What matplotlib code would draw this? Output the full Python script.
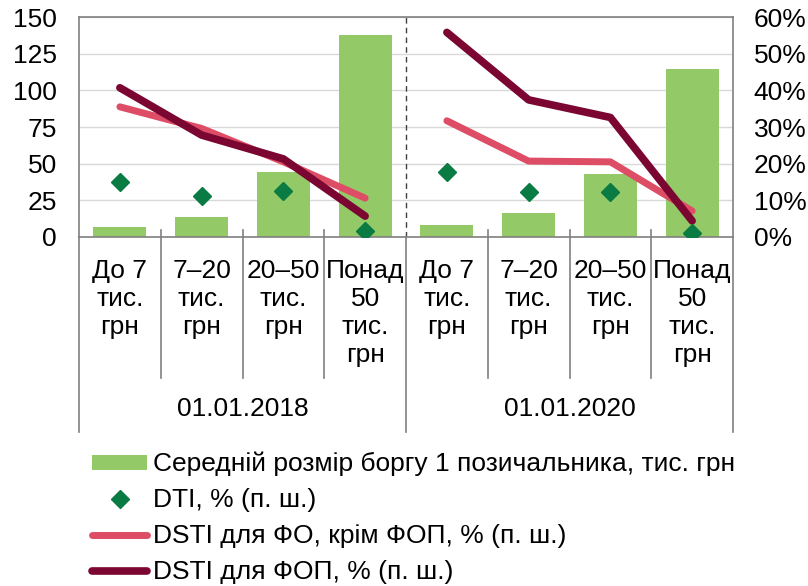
import matplotlib
matplotlib.use('Agg')
import matplotlib.pyplot as plt
from matplotlib.transforms import blended_transform_factory
from matplotlib.lines import Line2D
from matplotlib.patches import Patch

# ---- data ----
categories = ["До 7\nтис.\nгрн", "7–20\nтис.\nгрн", "20–50\nтис.\nгрн", "Понад\n50\nтис.\nгрн",
              "До 7\nтис.\nгрн", "7–20\nтис.\nгрн", "20–50\nтис.\nгрн", "Понад\n50\nтис.\nгрн"]
groups = ["01.01.2018", "01.01.2020"]
avg_debt = [7, 13.5, 44, 138, 8.2, 16.6, 42.7, 114.5]
dti = [15.1, 11.2, 12.6, 1.6, 17.8, 12.4, 12.4, 1.0]
dsti_fo = [35.5, 29.6, 20.5, 10.6, 31.7, 20.7, 20.5, 7.1]
dsti_fop = [40.7, 27.8, 21.3, 5.7, 55.8, 37.4, 32.6, 4.4]
left_ticks = [0, 25, 50, 75, 100, 125, 150]
right_ticks = [0, 10, 20, 30, 40, 50, 60]
right_labels = ["0%", "10%", "20%", "30%", "40%", "50%", "60%"]
legend_labels = ["Середній розмір боргу 1 позичальника, тис. грн",
                 "DTI, % (п. ш.)",
                 "DSTI для ФО, крім ФОП, % (п. ш.)",
                 "DSTI для ФОП, % (п. ш.)"]

# ---- style ----
plt.rcParams['font.family'] = ['Liberation Sans', 'DejaVu Sans']
FS = 19
c_bar = '#93C966'
c_dti = '#0A7B43'
c_fo = '#DE4D66'
c_fop = '#7A0631'
c_axis = '#808080'

W, H = 808, 586
fig = plt.figure(figsize=(W / 100, H / 100), dpi=100)
ax = fig.add_axes([79 / W, 1 - 237 / H, (733 - 79) / W, (237 - 17) / H])
ax2 = ax.twinx()

x = list(range(len(avg_debt)))
ax.bar(x, avg_debt, width=0.65, color=c_bar, zorder=2)
ax.set_xlim(-0.5, len(x) - 0.5)
ax.set_ylim(0, 150)
ax.set_yticks(left_ticks)
ax.set_yticklabels([str(v) for v in left_ticks], fontsize=FS)
ax.grid(axis='y', color='#D9D9D9', linewidth=1.0, zorder=0)
ax.set_axisbelow(True)
ax.tick_params(axis='y', length=0, pad=16)
ax.set_xticks(x)
ax.set_xticklabels(categories, fontsize=FS, linespacing=1.2)
ax.tick_params(axis='x', length=0, pad=16)
for s in ax.spines.values():
    s.set_color(c_axis)
    s.set_linewidth(1.2)

# second axis (percent)
ax2.set_ylim(0, 60)
ax2.set_yticks(right_ticks)
ax2.set_yticklabels(right_labels, fontsize=FS)
ax2.tick_params(axis='y', length=0, pad=15)
for s in ax2.spines.values():
    s.set_visible(False)

n = 4
for g in range(2):
    xs = x[g * n:(g + 1) * n]
    ax2.plot(xs, dsti_fo[g * n:(g + 1) * n], color=c_fo, lw=5.0,
             solid_capstyle='round', solid_joinstyle='round', zorder=3)
    ax2.plot(xs, dsti_fop[g * n:(g + 1) * n], color=c_fop, lw=5.5,
             solid_capstyle='round', solid_joinstyle='round', zorder=4)
ax2.plot(x, dti, linestyle='none', marker='D', markersize=9.5, color=c_dti, zorder=5)

# separators
tr = blended_transform_factory(ax.transData, ax.transAxes)
ax.axvline(3.5, color='#404040', lw=1.0, ls=(0, (4, 3)), zorder=1)
for b in [0.5, 1.5, 2.5, 4.5, 5.5, 6.5]:
    ax.plot([b, b], [0.03, -0.64], transform=tr, color=c_axis, lw=1.2, clip_on=False)
for b in [-0.5, 3.5, len(x) - 0.5]:
    ax.plot([b, b], [0.0, -0.885], transform=tr, color=c_axis, lw=1.2, clip_on=False)
for g, lab in enumerate(groups):
    ax.text(g * n + (n - 1) / 2, -0.782, lab, transform=tr, ha='center', va='center', fontsize=FS)

handles = [Patch(facecolor=c_bar, edgecolor='none'),
           Line2D([], [], linestyle='none', marker='D', markersize=9.5, color=c_dti),
           Line2D([], [], color=c_fo, lw=5.0, solid_capstyle='round'),
           Line2D([], [], color=c_fop, lw=5.5, solid_capstyle='round')]
fig.legend(handles, legend_labels, loc='upper left', bbox_to_anchor=(92 / W, 1 - 452 / H),
           frameon=False, fontsize=FS, borderpad=0, borderaxespad=0,
           handlelength=2.1, handleheight=0.5, handletextpad=0.2, labelspacing=0.45)

fig.savefig('out.png', dpi=100)
